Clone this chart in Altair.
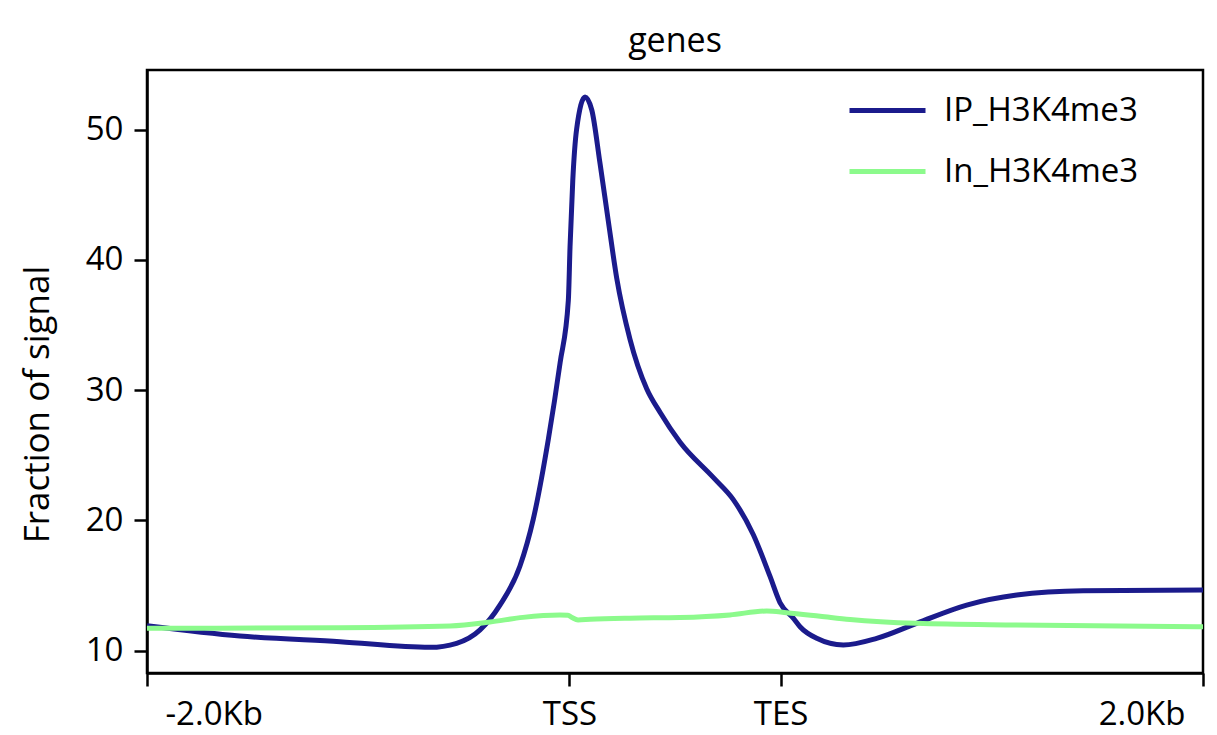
import altair as alt
import pandas as pd

# ---- data ----
samples = ["IP_H3K4me3", "In_H3K4me3"]
colors = ["#1b1b8c", "#8cfa8c"]

ip_pos = [0, 440, 914, 1340, 1466, 1577, 1671, 1766, 1829, 1900, 1956, 1995,
          2003, 2016, 2034, 2074, 2106, 2145, 2184, 2224, 2287, 2366, 2429, 2524, 2681,
          2776, 2871, 2950, 2997, 3060, 3092, 3171, 3297, 3455, 3644, 3881,
          4118, 4433, 5000]
ip_val = [11.92, 11.13, 10.69, 10.26, 10.57, 11.6, 13.5, 16.5, 20.1, 26.2, 32.1, 36.9,
          41.0, 46.1, 50.0, 52.5, 51.5, 47.4, 43.0, 38.6, 33.9, 30.1, 28.3, 26.0, 23.3,
          21.6, 18.9, 15.7, 13.7, 12.5, 11.84, 10.95, 10.44, 10.95, 12.1, 13.5,
          14.27, 14.6, 14.66]

in_pos = [0, 914, 1435, 1624, 1780, 1955, 1993, 2012, 2041, 2098, 2287, 2524,
          2760, 2934, 3029, 3187, 3329, 3644, 4118, 5000]
in_val = [11.72, 11.77, 11.9, 12.2, 12.56, 12.74, 12.72, 12.55, 12.36, 12.41, 12.5, 12.55,
          12.75, 13.05, 12.92, 12.65, 12.4, 12.1, 11.97, 11.84]

x_ticks = [0, 2000, 3000, 5000]
x_labels = ["-2.0Kb", "TSS", "TES", "2.0Kb"]
y_ticks = [10, 20, 30, 40, 50]

df = pd.concat([
    pd.DataFrame({"pos": ip_pos, "signal": ip_val, "sample": samples[0], "k": range(len(ip_pos))}),
    pd.DataFrame({"pos": in_pos, "signal": in_val, "sample": samples[1], "k": range(len(in_pos))}),
], ignore_index=True)

label_expr = " : ".join(
    f"datum.value == {v} ? '{t}'" for v, t in zip(x_ticks, x_labels)
) + " : ''"

FONT = "Open Sans"

chart = alt.Chart(df).mark_line(strokeWidth=5, interpolate="monotone").encode(
    x=alt.X("pos:Q",
            scale=alt.Scale(domain=[0, 5000], nice=False, zero=False),
            axis=alt.Axis(values=x_ticks, labelExpr=label_expr, title=None, grid=False,
                          labelFlush=True, labelFlushOffset=-18, labelPadding=12)),
    y=alt.Y("signal:Q",
            scale=alt.Scale(domain=[8.29, 54.57], nice=False, zero=False),
            axis=alt.Axis(values=y_ticks, title="Fraction of signal", grid=False,
                          labelPadding=11, titleX=-110, titleY=334,
                          titleAlign="center", titleBaseline="middle")),
    color=alt.Color("sample:N",
                    scale=alt.Scale(domain=samples, range=colors),
                    legend=alt.Legend(title=None, orient="none", legendX=700, legendY=0,
                                      symbolType="stroke", symbolSize=5776,
                                      symbolStrokeWidth=5, labelFontSize=33,
                                      labelFont=FONT, labelColor="black", labelLimit=0,
                                      labelOffset=16, rowPadding=3, padding=0)),
    detail="sample:N",
    order="k:Q",
).properties(
    width=1056, height=603,
    title=alt.TitleParams("genes", font=FONT, fontSize=34, fontWeight="normal",
                          color="black", baseline="alphabetic", offset=18, dy=34),
    autosize=alt.AutoSizeParams(type="none"),
    padding={"left": 139, "top": 62, "right": 6, "bottom": 60},
).configure_axis(
    domainColor="black", domainWidth=2.5, tickColor="black", tickWidth=2.5, tickSize=13,
    labelFont=FONT, labelFontSize=33, labelColor="black",
    titleFont=FONT, titleFontSize=35, titleFontWeight="normal", titleColor="black",
).configure_view(stroke="black", strokeWidth=2.5)

chart.save("out.html", embed_options={"renderer": "svg", "actions": False})
